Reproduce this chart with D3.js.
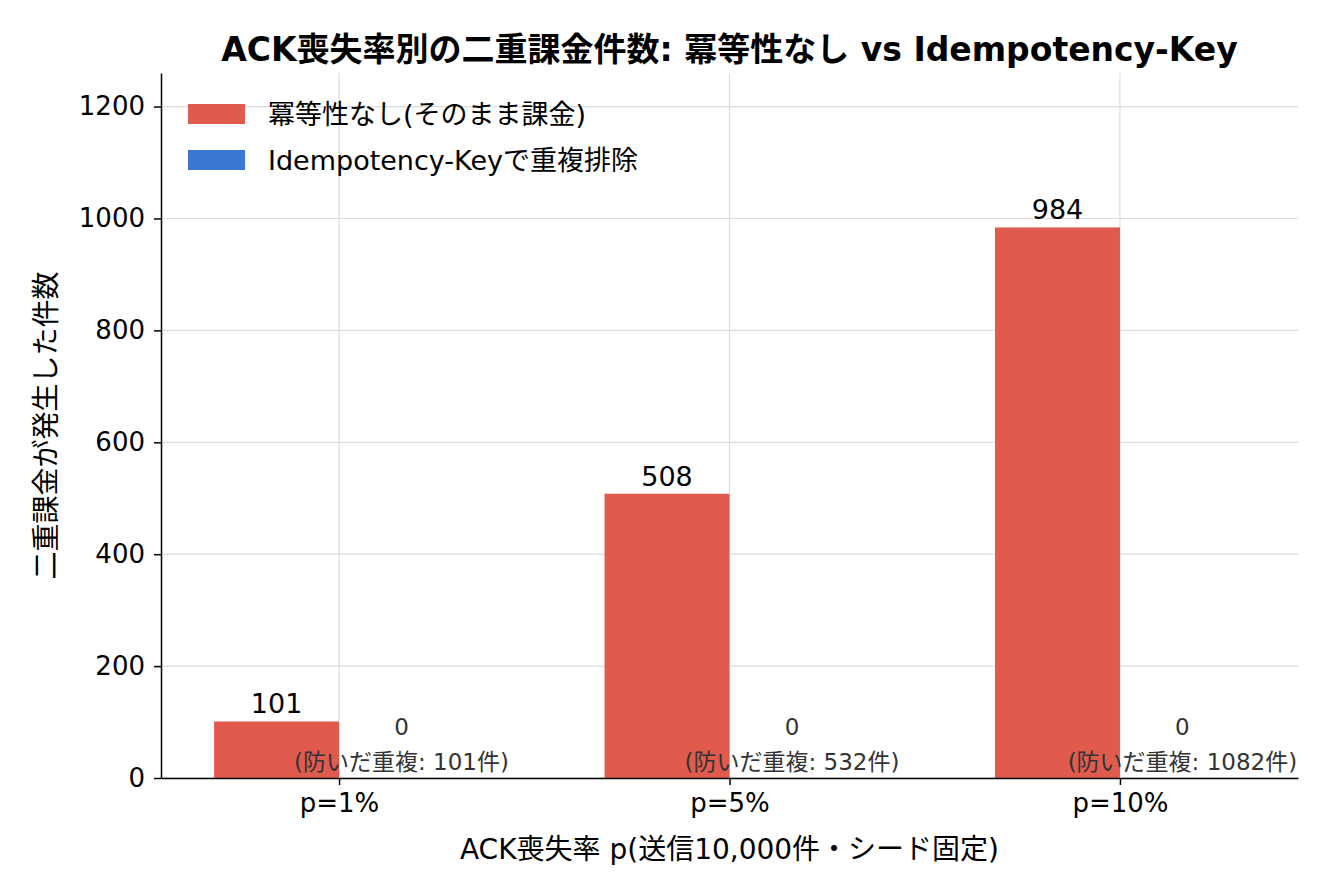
<!DOCTYPE html>
<html>
<head>
<meta charset="utf-8">
<script src="https://cdn.jsdelivr.net/npm/d3@7"></script>
<style>
  body { margin: 0; background: #fff; }
  svg text { font-family: "DejaVu Sans", "Noto Sans CJK JP", sans-serif; }
  .grid line { stroke: #dcdcdc; stroke-width: 1.2; }
  .axis path, .axis line { stroke: #000; stroke-width: 1.5; }
  .axis text { font-size: 26px; fill: #000; }
</style>
</head>
<body>
<div class="graph"></div>
<script>
// data
const categories = ["p=1%", "p=5%", "p=10%"];
const noIdempotency = [101, 508, 984];
const withKey = [0, 0, 0];
const prevented = [101, 532, 1082];
const yTicks = [0, 200, 400, 600, 800, 1000, 1200];
const seriesNames = ["冪等性なし(そのまま課金)", "Idempotency-Keyで重複排除"];
const colors = ["#e05a4e", "#3a78d6"];

const width = 1344, height = 896;
const margin = {left: 161, right: 46, top: 73, bottom: 118};
const barW = 0.32;

const svg = d3.select(".graph").append("svg")
    .attr("width", width)
    .attr("height", height);

//Scales
const x = d3.scaleLinear()
    .domain([-0.456, categories.length - 1 + 0.456])
    .range([margin.left, width - margin.right]);

const y = d3.scaleLinear()
    .domain([0, 1260])
    .range([height - margin.bottom, margin.top]);

//Grid
svg.append("g").attr("class", "grid")
    .selectAll("line").data(yTicks).join("line")
    .attr("x1", x.range()[0]).attr("x2", x.range()[1])
    .attr("y1", d => y(d)).attr("y2", d => y(d));

svg.append("g").attr("class", "grid")
    .selectAll("line").data(categories).join("line")
    .attr("x1", (d, i) => x(i)).attr("x2", (d, i) => x(i))
    .attr("y1", y.range()[0]).attr("y2", y.range()[1]);

//Bars
svg.append("g").selectAll("rect").data(noIdempotency).join("rect")
    .attr("x", (d, i) => x(i - barW))
    .attr("width", x(barW) - x(0))
    .attr("y", d => y(d))
    .attr("height", d => y(0) - y(d))
    .attr("fill", colors[0]);

svg.append("g").selectAll("rect").data(withKey).join("rect")
    .attr("x", (d, i) => x(i))
    .attr("width", x(barW) - x(0))
    .attr("y", d => y(d))
    .attr("height", d => y(0) - y(d))
    .attr("fill", colors[1]);

//Value labels
svg.append("g").selectAll("text").data(noIdempotency).join("text")
    .attr("x", (d, i) => x(i - barW / 2))
    .attr("y", d => y(d) - 8)
    .attr("text-anchor", "middle")
    .attr("font-size", 27)
    .text(d => d);

svg.append("g").selectAll("text").data(withKey).join("text")
    .attr("x", (d, i) => x(i + barW / 2))
    .attr("y", d => y(d) - 43)
    .attr("text-anchor", "middle")
    .attr("font-size", 23)
    .attr("fill", "#333")
    .text(d => d);

svg.append("g").selectAll("text").data(prevented).join("text")
    .attr("x", (d, i) => x(i + barW / 2))
    .attr("y", y(0) - 8)
    .attr("text-anchor", "middle")
    .attr("font-size", 23)
    .attr("fill", "#333")
    .text(d => "(防いだ重複: " + d + "件)");

//Axes
svg.append("g").attr("class", "axis")
    .attr("transform", "translate(0," + y(0) + ")")
    .call(d3.axisBottom(x).tickValues(categories.map((d, i) => i))
        .tickFormat(i => categories[i]).tickSize(7).tickSizeOuter(0).tickPadding(9));

svg.append("g").attr("class", "axis")
    .attr("transform", "translate(" + margin.left + ",0)")
    .call(d3.axisLeft(y).tickValues(yTicks).tickFormat(d3.format("d"))
        .tickSize(7).tickSizeOuter(0).tickPadding(9));

//Titles
svg.append("text")
    .attr("x", (x.range()[0] + x.range()[1]) / 2)
    .attr("y", 61)
    .attr("text-anchor", "middle")
    .attr("font-size", 33)
    .attr("font-weight", "bold")
    .text("ACK喪失率別の二重課金件数: 冪等性なし vs Idempotency-Key");

svg.append("text")
    .attr("x", (x.range()[0] + x.range()[1]) / 2)
    .attr("y", 859)
    .attr("text-anchor", "middle")
    .attr("font-size", 28)
    .text("ACK喪失率 p(送信10,000件・シード固定)");

svg.append("text")
    .attr("transform", "translate(56," + (y.range()[0] + y.range()[1]) / 2 + ") rotate(-90)")
    .attr("text-anchor", "middle")
    .attr("font-size", 28)
    .text("二重課金が発生した件数");

//Legend
const legend = svg.append("g").attr("transform", "translate(188,104)");
seriesNames.forEach((name, i) => {
    legend.append("rect")
        .attr("x", 0).attr("y", i * 46)
        .attr("width", 57).attr("height", 20)
        .attr("fill", colors[i]);
    legend.append("text")
        .attr("x", 80).attr("y", i * 46 + 20)
        .attr("font-size", 27)
        .text(name);
});
</script>
</body>
</html>
